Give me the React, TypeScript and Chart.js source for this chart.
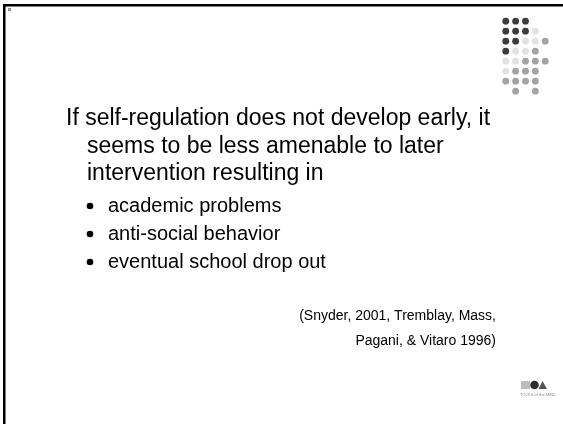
import React, { useEffect, useRef } from "react";
import { Chart, registerables } from "chart.js";

Chart.register(...registerables);

// ---- content ----
const headingLines: string[] = [
  "If self-regulation does not develop early, it",
  "seems to be less amenable to later",
  "intervention resulting in",
];
const bulletItems: string[] = [
  "academic problems",
  "anti-social behavior",
  "eventual school drop out",
];
const citationLines: string[] = [
  "(Snyder, 2001, Tremblay, Mass,",
  "Pagani, & Vitaro 1996)",
];
const logoText = "TOOLS of the MIND";

// decorative dot grid: D = dark, L = light, M = medium, . = none
const dotRows: string[] = [
  "DDD..",
  "DDDL.",
  "DDLLM",
  "DLLM.",
  "LLMMM",
  "LMMM.",
  "MMMM.",
  ".M.M.",
];
const dotKinds: string[] = ["D", "L", "M"];
const dotColors: string[] = ["#3c3c3c", "#e2e2e2", "#a3a3a3"];

const W = 563;
const H = 424;
const FONT = "'Liberation Sans', Arial, Helvetica, sans-serif";

function dotData(kind: string) {
  const pts: { x: number; y: number }[] = [];
  dotRows.forEach((row, r) => {
    row.split("").forEach((c, col) => {
      if (c === kind) pts.push({ x: 509 + col * 10, y: 17.5 + r * 10.2 });
    });
  });
  return pts;
}

const slidePlugin = {
  id: "slideText",
  afterDraw(chart: any) {
    const ctx: CanvasRenderingContext2D = chart.ctx;
    ctx.save();
    // border (top and left)
    ctx.fillStyle = "#000";
    ctx.fillRect(3, 4, W - 3, 2.5);
    ctx.fillRect(3, 4, 2.5, H - 4);
    // tiny mark top-left
    ctx.fillStyle = "#9a9a9a";
    ctx.fillRect(8, 8, 3, 3);

    ctx.fillStyle = "#000";
    ctx.textBaseline = "alphabetic";
    ctx.textAlign = "left";
    ctx.font = `23px ${FONT}`;
    headingLines.forEach((t, i) => {
      ctx.fillText(t, i === 0 ? 66 : 87, 125 + i * 27.5);
    });

    ctx.font = `20px ${FONT}`;
    bulletItems.forEach((t, i) => {
      const y = 212 + i * 28;
      ctx.beginPath();
      ctx.arc(90, y - 6, 3.3, 0, Math.PI * 2);
      ctx.fill();
      ctx.fillText(t, 108, y);
    });

    ctx.font = `14px ${FONT}`;
    ctx.textAlign = "right";
    citationLines.forEach((t, i) => {
      ctx.fillText(t, 496, 320 + i * 24.5);
    });

    // logo
    ctx.fillStyle = "#bdbdbd";
    ctx.fillRect(521, 381, 9, 8);
    ctx.fillStyle = "#2e2e2e";
    ctx.beginPath();
    ctx.arc(534.5, 385, 4.3, 0, Math.PI * 2);
    ctx.fill();
    ctx.fillStyle = "#555";
    ctx.beginPath();
    ctx.moveTo(538.5, 389);
    ctx.lineTo(542.5, 381);
    ctx.lineTo(547, 389);
    ctx.closePath();
    ctx.fill();
    ctx.fillStyle = "#8a8a8a";
    ctx.font = `4px ${FONT}`;
    ctx.textAlign = "left";
    ctx.fillText(logoText, 520, 395.5);
    ctx.restore();
  },
};

export default function App() {
  const ref = useRef<HTMLCanvasElement | null>(null);
  useEffect(() => {
    if (!ref.current) return;
    const chart = new Chart(ref.current, {
      type: "scatter",
      data: {
        datasets: dotKinds.map((k, i) => ({
          label: k,
          data: dotData(k),
          pointRadius: 3.4,
          pointBorderWidth: 0,
          pointBackgroundColor: dotColors[i],
          pointBorderColor: dotColors[i],
          showLine: false,
        })),
      },
      options: {
        animation: false,
        responsive: false,
        devicePixelRatio: 1,
        layout: { padding: 0 },
        plugins: { legend: { display: false }, tooltip: { enabled: false }, title: { display: false } },
        scales: {
          x: { type: "linear", min: 0, max: W, display: false },
          y: { type: "linear", min: 0, max: H, reverse: true, display: false },
        },
      },
      plugins: [slidePlugin],
    });
    return () => chart.destroy();
  }, []);
  return (
    <div style={{ position: "absolute", left: 0, top: 0, width: W, height: H, background: "#fff" }}>
      <canvas ref={ref} width={W} height={H} style={{ display: "block" }} />
    </div>
  );
}
